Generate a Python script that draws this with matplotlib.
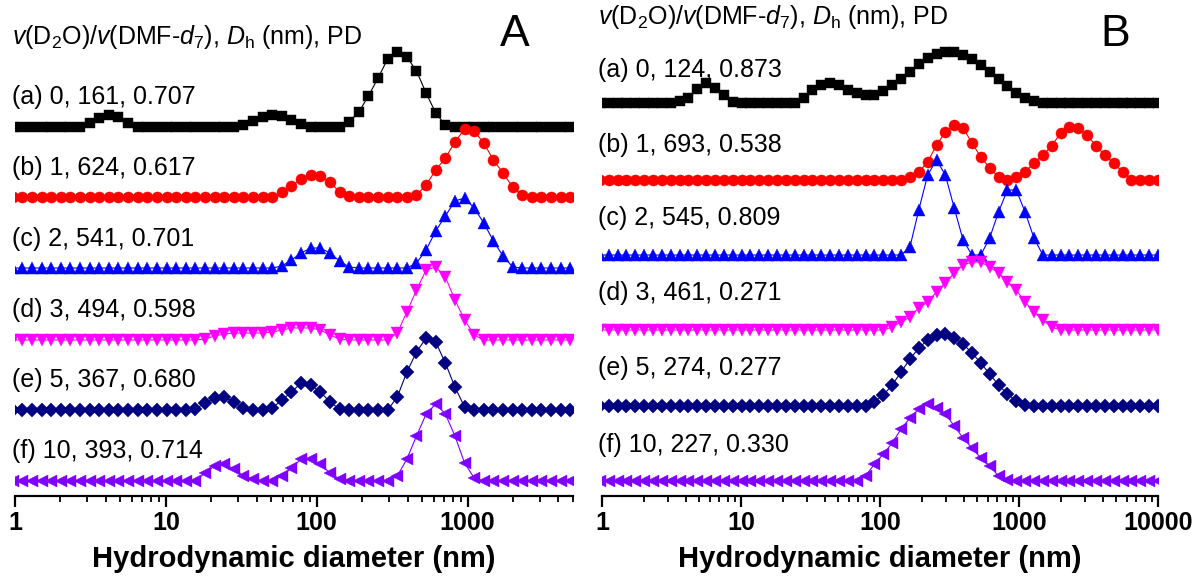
import numpy as np
import matplotlib
matplotlib.use('Agg')
import matplotlib.pyplot as plt
from matplotlib.ticker import FixedLocator, LogLocator, NullFormatter

plt.rcParams['font.family'] = ['Liberation Sans', 'DejaVu Sans']
plt.rcParams['mathtext.fontset'] = 'custom'
plt.rcParams['mathtext.rm'] = 'Liberation Sans'
plt.rcParams['mathtext.it'] = 'Liberation Sans:italic'
plt.rcParams['mathtext.bf'] = 'Liberation Sans:bold'

# ---------------- data ----------------
# DLS size bins (nm)
sizes = [0.9649, 1.117, 1.294, 1.499, 1.736, 2.01, 2.328, 2.696, 3.122, 3.615,
         4.187, 4.849, 5.615, 6.503, 7.531, 8.721, 10.1, 11.7, 13.54, 15.69,
         18.17, 21.04, 24.36, 28.21, 32.67, 37.84, 43.82, 50.75, 58.77, 68.06,
         78.82, 91.28, 105.7, 122.4, 141.8, 164.2, 190.1, 220.2, 255.0, 295.3,
         342.0, 396.1, 458.7, 531.2, 615.1, 712.4, 825.0, 955.4, 1106, 1281,
         1484, 1718, 1990, 2305, 2669, 3091, 3580, 4145, 4801, 5560,
         6439, 7456, 8635, 10000]

title_text = r'$v$(D$_2$O)/$v$(DMF-$d_7$), $D_\mathrm{h}$ (nm), PD'

labels_A = ['(a) 0, 161, 0.707', '(b) 1, 624, 0.617', '(c) 2, 541, 0.701',
            '(d) 3, 494, 0.598', '(e) 5, 367, 0.680', '(f) 10, 393, 0.714']
labels_B = ['(a) 0, 124, 0.873', '(b) 1, 693, 0.538', '(c) 2, 545, 0.809',
            '(d) 3, 461, 0.271', '(e) 5, 274, 0.277', '(f) 10, 227, 0.330']

# Panel A intensities (a.u.)
A_a = [0, 0, 0, 0, 0, 0, 0, 0, 4, 9, 12, 10, 4, 0, 0, 0,
       0, 0, 0, 0, 0, 0, 0, 0, 2, 6, 10, 12, 11, 7, 3, 0,
       0, 0, 0, 5, 15, 31, 49, 68, 75, 70, 56, 34, 14, 2, 0, 0,
       0, 0, 0, 0, 0, 0, 0, 0, 0, 0, 0, 0, 0, 0, 0, 0]
A_b = [0, 0, 0, 0, 0, 0, 0, 0, 0, 0, 0, 0, 0, 0, 0, 0,
       0, 0, 0, 0, 0, 0, 0, 0, 0, 0, 0, 0, 5, 11, 18, 22,
       21, 15, 5, 1, 0, 0, 0, 0, 0, 0, 2, 12, 27, 39, 55, 68,
       66, 54, 37, 24, 10, 2, 0, 0, 0, 0, 0, 0, 0, 0, 0, 0]
A_c = [0, 0, 0, 0, 0, 0, 0, 0, 0, 0, 0, 0, 0, 0, 0, 0,
       0, 0, 0, 0, 0, 0, 0, 0, 0, 0, 0, 0, 2, 8, 15, 20,
       20, 15, 7, 1, 0, 0, 0, 0, 0, 0, 5, 18, 37, 52, 67, 70,
       60, 45, 27, 12, 1, 0, 0, 0, 0, 0, 0, 0, 0, 0, 0, 0]
A_d = [0, 0, 0, 0, 0, 0, 0, 0, 0, 0, 0, 0, 0, 0, 0, 0,
       0, 0, 0, 0, 1, 4, 6, 7, 7, 7, 7, 8, 10, 12, 12, 12,
       10, 5, 1, 0, 0, 0, 0, 0, 7, 28, 50, 70, 73, 63, 40, 20,
       5, 0, 0, 0, 0, 0, 0, 0, 0, 0, 0, 0, 0, 0, 0, 0]
A_e = [0, 0, 0, 0, 0, 0, 0, 0, 0, 0, 0, 0, 0, 0, 0, 0,
       0, 0, 0, 1, 7, 12, 13, 8, 2, 0, 0, 2, 10, 18, 27, 25,
       18, 8, 1, 0, 0, 0, 0, 0, 13, 38, 58, 72, 68, 47, 23, 3,
       0, 0, 0, 0, 0, 0, 0, 0, 0, 0, 0, 0, 0, 0, 0, 0]
A_f = [0, 0, 0, 0, 0, 0, 0, 0, 0, 0, 0, 0, 0, 0, 0, 0,
       0, 0, 0, 0, 8, 15, 17, 12, 5, 2, 0, 0, 5, 13, 22, 22,
       17, 8, 2, 0, 0, 0, 0, 0, 5, 22, 45, 67, 77, 67, 45, 18,
       3, 0, 0, 0, 0, 0, 0, 0, 0, 0, 0, 0, 0, 0, 0, 0]

# Panel B intensities (a.u.)
B_a = [0, 0, 0, 0, 0, 0, 0, 0, 0, 2, 5, 14, 20, 15, 8, 1,
       0, 0, 0, 0, 0, 0, 0, 5, 13, 18, 20, 18, 13, 10, 8, 8,
       12, 18, 24, 31, 39, 45, 49, 51, 51, 48, 44, 38, 31, 24, 17, 10,
       5, 2, 0, 0, 0, 0, 0, 0, 0, 0, 0, 0, 0, 0, 0, 0]
B_b = [0, 0, 0, 0, 0, 0, 0, 0, 0, 0, 0, 0, 0, 0, 0, 0,
       0, 0, 0, 0, 0, 0, 0, 0, 0, 0, 0, 0, 0, 0, 0, 0,
       0, 0, 0, 3, 8, 18, 35, 48, 55, 52, 37, 23, 12, 3, 0, 3,
       8, 17, 25, 34, 47, 53, 52, 45, 34, 25, 17, 8, 0, 0, 0, 0]
B_c = [0, 0, 0, 0, 0, 0, 0, 0, 0, 0, 0, 0, 0, 0, 0, 0,
       0, 0, 0, 0, 0, 0, 0, 0, 0, 0, 0, 0, 0, 0, 0, 0,
       0, 0, 0, 8, 45, 80, 95, 80, 47, 15, 0, 0, 17, 43, 65, 65,
       43, 17, 0, 0, 0, 0, 0, 0, 0, 0, 0, 0, 0, 0, 0, 0]
B_d = [0, 0, 0, 0, 0, 0, 0, 0, 0, 0, 0, 0, 0, 0, 0, 0,
       0, 0, 0, 0, 0, 0, 0, 0, 0, 0, 0, 0, 0, 0, 0, 0,
       0, 3, 8, 13, 22, 28, 38, 47, 57, 65, 68, 68, 63, 57, 48, 40,
       28, 18, 10, 3, 0, 0, 0, 0, 0, 0, 0, 0, 0, 0, 0, 0]
B_e = [0, 0, 0, 0, 0, 0, 0, 0, 0, 0, 0, 0, 0, 0, 0, 0,
       0, 0, 0, 0, 0, 0, 0, 0, 0, 0, 0, 0, 0, 0, 0, 4,
       11, 21, 34, 47, 58, 66, 71, 72, 68, 62, 53, 43, 32, 21, 12, 5,
       1, 0, 0, 0, 0, 0, 0, 0, 0, 0, 0, 0, 0, 0, 0, 0]
B_f = [0, 0, 0, 0, 0, 0, 0, 0, 0, 0, 0, 0, 0, 0, 0, 0,
       0, 0, 0, 0, 0, 0, 0, 0, 0, 0, 0, 0, 0, 0, 5, 17,
       27, 38, 52, 63, 72, 77, 73, 67, 55, 43, 33, 23, 15, 5, 1, 0,
       0, 0, 0, 0, 0, 0, 0, 0, 0, 0, 0, 0, 0, 0, 0, 0]

ticks_A = [1, 10, 100, 1000]
ticks_B = [1, 10, 100, 1000, 10000]
tick_labels_A = ['1', '10', '100', '1000']
tick_labels_B = ['1', '10', '100', '1000', '10000']
xlabel = 'Hydrodynamic diameter (nm)'

# ---------------- style ----------------
colors = ['#000000', '#ff0000', '#0000ff', '#ff00ff', '#000080', '#8000ff']
markers = ['s', 'o', '^', 'v', 'D', '<']
msizes = [7.5, 8.0, 9.0, 9.0, 7.0, 9.0]

W, H = 1200, 577
fig = plt.figure(figsize=(W / 100, H / 100), dpi=100)

AX_BOTTOM_PX = 496


def make_axes(x0, x1):
    ax = fig.add_axes([x0 / W, 1 - AX_BOTTOM_PX / H, (x1 - x0) / W, AX_BOTTOM_PX / H])
    ax.patch.set_alpha(0)
    return ax


def style_axes(ax, xmax, ticks, tick_labels):
    ax.set_xscale('log')
    ax.set_xlim(1, xmax)
    ax.set_ylim(0, AX_BOTTOM_PX)
    for s in ['left', 'right', 'top']:
        ax.spines[s].set_visible(False)
    ax.spines['bottom'].set_linewidth(1.6)
    ax.set_yticks([])
    ax.xaxis.set_major_locator(FixedLocator(ticks))
    ax.set_xticklabels(tick_labels)
    ax.xaxis.set_minor_locator(LogLocator(base=10, subs=np.arange(2, 10)))
    ax.xaxis.set_minor_formatter(NullFormatter())
    ax.tick_params(axis='x', which='major', direction='out', length=8, width=1.6,
                   pad=3, labelsize=18)
    ax.tick_params(axis='x', which='minor', direction='out', length=4.5, width=1.3)
    for lab in ax.get_xticklabels():
        lab.set_fontweight('bold')
    ax.set_xlabel(xlabel, fontsize=21, fontweight='bold', labelpad=7)


def draw_panel(ax, series, baselines_px):
    for i, ys in enumerate(series):
        off = AX_BOTTOM_PX - baselines_px[i]
        y = np.array(ys, dtype=float) + off
        ax.plot(sizes, y, color=colors[i], lw=0.8, marker=markers[i],
                ms=msizes[i], mec=colors[i], mew=0.3, mfc=colors[i])


axA = make_axes(15, 573)
axB = make_axes(602, 1158)

base_A = [127, 197, 268, 340, 410, 481]
base_B = [103, 180, 255, 330, 406, 481]

draw_panel(axA, [A_a, A_b, A_c, A_d, A_e, A_f], base_A)
draw_panel(axB, [B_a, B_b, B_c, B_d, B_e, B_f], base_B)
style_axes(axA, 5000, ticks_A, tick_labels_A)
style_axes(axB, 10000, ticks_B, tick_labels_B)

# text labels
txtA_y = [97, 168, 239, 310, 380, 451]
txtB_y = [70, 145, 218, 293, 368, 445]
for i in range(6):
    fig.text(12 / W, 1 - txtA_y[i] / H, labels_A[i], fontsize=18, va='center', ha='left')
    fig.text(598 / W, 1 - txtB_y[i] / H, labels_B[i], fontsize=18, va='center', ha='left')

fig.text(12 / W, 1 - 37 / H, title_text, fontsize=18, va='center', ha='left')
fig.text(598 / W, 1 - 17 / H, title_text, fontsize=18, va='center', ha='left')
fig.text(515 / W, 1 - 35 / H, 'A', fontsize=32, va='center', ha='center')
fig.text(1115 / W, 1 - 35 / H, 'B', fontsize=32, va='center', ha='center')

fig.savefig('out.png', dpi=100)
